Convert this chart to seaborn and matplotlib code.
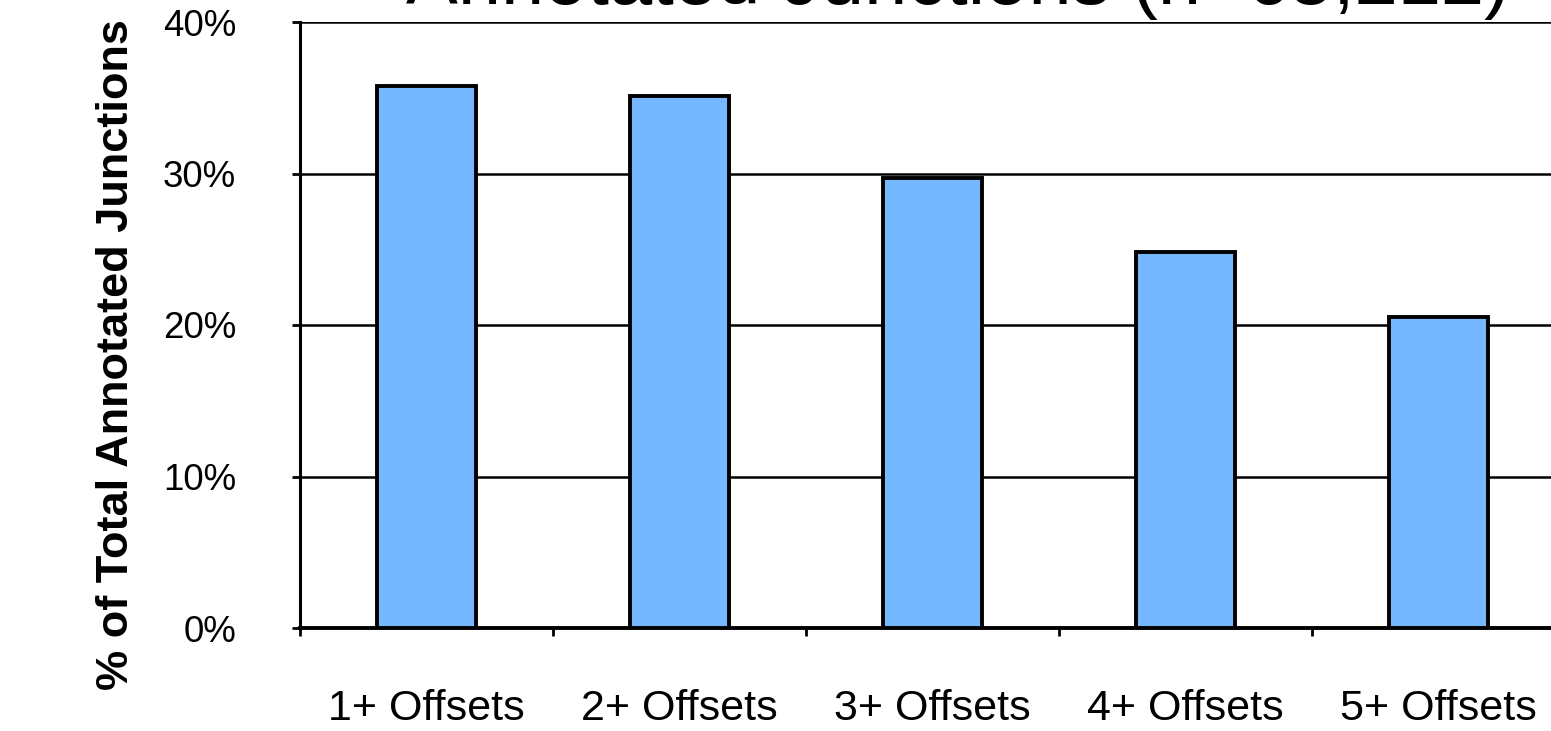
import matplotlib
matplotlib.use("Agg")
import matplotlib.pyplot as plt
import seaborn as sns
import pandas as pd
from matplotlib.ticker import FuncFormatter, FixedLocator, NullFormatter

# Share of annotated junctions by minimum number of offsets
categories = ["1+ Offsets", "2+ Offsets", "3+ Offsets", "4+ Offsets", "5+ Offsets"]
percent = [35.8, 35.1, 29.7, 24.8, 20.5]
y_ticks = [0, 10, 20, 30, 40]
title_text = "Annotated Junctions (n=65,212)"
y_label = "% of Total Annotated Junctions"

df = pd.DataFrame({"category": categories, "percent": percent})

sns.set_theme(style="white")
plt.rcParams["font.family"] = ["Liberation Sans", "DejaVu Sans"]

W, H = 1551, 731
fig = plt.figure(figsize=(W / 100, H / 100), dpi=100)
ax_left, ax_right, ax_top, ax_bottom = 300, 1565, 22, 628
ax = fig.add_axes([ax_left / W, 1 - ax_bottom / H,
                   (ax_right - ax_left) / W, (ax_bottom - ax_top) / H])

sns.barplot(data=df, x="category", y="percent", color="#75B8FF", saturation=1,
            width=0.39, edgecolor="black", linewidth=2.8, ax=ax, zorder=3)

ax.set_xlim(-0.5, len(categories) - 0.5)
ax.set_ylim(0, 40)
ax.set_yticks(y_ticks)
ax.yaxis.set_major_formatter(FuncFormatter(lambda v, p: f"{v:.0f}%"))
ax.grid(axis="y", color="black", linewidth=1.8, zorder=0)
ax.grid(axis="x", visible=False)
ax.set_axisbelow(True)

for side in ["top", "right"]:
    ax.spines[side].set_visible(False)
ax.spines["left"].set_color("black")
ax.spines["left"].set_linewidth(2.2)
ax.spines["bottom"].set_color("black")
ax.spines["bottom"].set_linewidth(2.8)

# category labels centered under bars, tick marks at the category boundaries
ax.xaxis.set_minor_locator(FixedLocator([i - 0.5 for i in range(len(categories) + 1)]))
ax.xaxis.set_minor_formatter(NullFormatter())
ax.tick_params(axis="x", which="major", length=0, pad=44, labelsize=31, labelcolor="black")
ax.tick_params(axis="x", which="minor", bottom=True, direction="out", length=6,
               width=2.0, color="black")
ax.tick_params(axis="y", left=True, direction="out", length=6, width=2.0, color="black",
               pad=40, labelsize=26.5, labelcolor="black")

ax.set_xlabel("")
ax.set_ylabel("")

fig.text(117 / W, 1 - 355 / H, y_label, rotation=90, ha="center", va="center",
         fontsize=32.5, fontweight="bold", color="black")
fig.text(958 / W, 1 - 4 / H, title_text, ha="center", va="baseline",
         fontsize=56, color="black")

fig.savefig("out.png", dpi=100)
